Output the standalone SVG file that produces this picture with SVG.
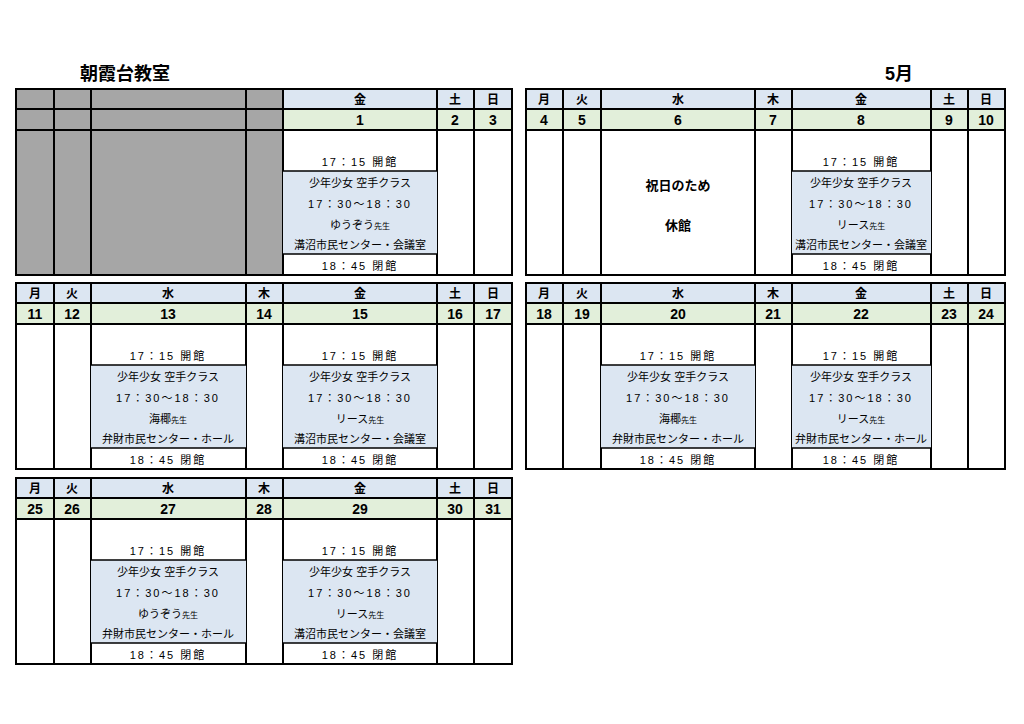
<svg xmlns="http://www.w3.org/2000/svg" width="1024" height="724" viewBox="0 0 1024 724">
<style>
text{font-family:"Liberation Sans","Noto Sans CJK JP",sans-serif;fill:#000;text-anchor:middle}
.t{font-size:18px;font-weight:bold;text-anchor:start}
.h{font-size:12px;font-weight:bold}
.d{font-size:14px;font-weight:bold}
.s{font-size:11px}
.tm{font-size:11px;letter-spacing:2px}
.hol{font-size:13px;font-weight:bold}
.hb{fill:#dce6f2}.db{fill:#e2efda}.gr{fill:#a6a6a6}.wb{fill:#fff}
.ln{stroke:#000;stroke-width:2;fill:none}
.il{stroke:#000;stroke-width:1.5;fill:none}
</style>
<rect width="1024" height="724" fill="#fff"/>
<text class="t" x="80" y="80">朝霞台教室</text>
<text class="t" x="885" y="80">5月</text>

<!-- generic block: header 0-20, date 20-41, body 41-186 -->
<g id="week1L" transform="translate(0,89)">
<rect x="16" y="0" width="496" height="20" class="hb"/><rect x="16" y="20" width="496" height="21" class="db"/>
<rect x="16" y="0" width="267" height="186" class="gr"/>
<path class="ln" d="M16 0H512V186H16Z M16 20H512 M16 41H512 M54 0V186 M91 0V186 M246 0V186 M283 0V186 M437 0V186 M474 0V186"/>
<text class="h" x="360" y="15">金</text><text class="h" x="455" y="15">土</text><text class="h" x="493" y="15">日</text>
<text class="d" x="360" y="36">1</text><text class="d" x="455" y="36">2</text><text class="d" x="493" y="36">3</text>
<g transform="translate(283,0)"><rect x="0" y="82" width="154" height="83" class="hb"/><path class="il" d="M0 82H154 M0 165H154"/>
<text class="tm" x="77" y="77">17：15 開館</text><text class="s" x="77" y="98">少年少女 空手クラス</text><text class="tm" x="77" y="119">17：30〜18：30</text><text class="s" x="77" y="140">ゆうぞう<tspan font-size="8">先生</tspan></text><text class="s" x="77" y="160">溝沼市民センター・会議室</text><text class="tm" x="77" y="181">18：45 閉館</text></g>
</g>

<g id="week1R" transform="translate(0,89)">
<rect x="526" y="0" width="479" height="20" class="hb"/><rect x="526" y="20" width="479" height="21" class="db"/>
<path class="ln" d="M526 0H1005V186H526Z M526 20H1005 M526 41H1005 M563 0V186 M601 0V186 M755 0V186 M792 0V186 M931 0V186 M968 0V186"/>
<text class="h" x="544" y="15">月</text><text class="h" x="582" y="15">火</text><text class="h" x="678" y="15">水</text><text class="h" x="773" y="15">木</text><text class="h" x="861" y="15">金</text><text class="h" x="949" y="15">土</text><text class="h" x="986" y="15">日</text>
<text class="d" x="544" y="36">4</text><text class="d" x="582" y="36">5</text><text class="d" x="678" y="36">6</text><text class="d" x="773" y="36">7</text><text class="d" x="861" y="36">8</text><text class="d" x="949" y="36">9</text><text class="d" x="986" y="36">10</text>
<text class="hol" x="678" y="101">祝日のため</text><text class="hol" x="678" y="141">休館</text>
<g transform="translate(792,0)"><rect x="0" y="82" width="139" height="83" class="hb"/><path class="il" d="M0 82H139 M0 165H139"/>
<text class="tm" x="69" y="77">17：15 開館</text><text class="s" x="69" y="98">少年少女 空手クラス</text><text class="tm" x="69" y="119">17：30〜18：30</text><text class="s" x="69" y="140">リース<tspan font-size="8">先生</tspan></text><text class="s" x="69" y="160">溝沼市民センター・会議室</text><text class="tm" x="69" y="181">18：45 閉館</text></g>
</g>

<g id="week2L" transform="translate(0,283)">
<rect x="16" y="0" width="496" height="20" class="hb"/><rect x="16" y="20" width="496" height="21" class="db"/>
<path class="ln" d="M16 0H512V186H16Z M16 20H512 M16 41H512 M54 0V186 M91 0V186 M246 0V186 M283 0V186 M437 0V186 M474 0V186"/>
<text class="h" x="35" y="15">月</text><text class="h" x="72" y="15">火</text><text class="h" x="168" y="15">水</text><text class="h" x="264" y="15">木</text><text class="h" x="360" y="15">金</text><text class="h" x="455" y="15">土</text><text class="h" x="493" y="15">日</text>
<text class="d" x="35" y="36">11</text><text class="d" x="72" y="36">12</text><text class="d" x="168" y="36">13</text><text class="d" x="264" y="36">14</text><text class="d" x="360" y="36">15</text><text class="d" x="455" y="36">16</text><text class="d" x="493" y="36">17</text>
<g transform="translate(91,0)"><rect x="0" y="82" width="155" height="83" class="hb"/><path class="il" d="M0 82H155 M0 165H155"/>
<text class="tm" x="77" y="77">17：15 開館</text><text class="s" x="77" y="98">少年少女 空手クラス</text><text class="tm" x="77" y="119">17：30〜18：30</text><text class="s" x="77" y="140">海椰<tspan font-size="8">先生</tspan></text><text class="s" x="77" y="160">弁財市民センター・ホール</text><text class="tm" x="77" y="181">18：45 閉館</text></g>
<g transform="translate(283,0)"><rect x="0" y="82" width="154" height="83" class="hb"/><path class="il" d="M0 82H154 M0 165H154"/>
<text class="tm" x="77" y="77">17：15 開館</text><text class="s" x="77" y="98">少年少女 空手クラス</text><text class="tm" x="77" y="119">17：30〜18：30</text><text class="s" x="77" y="140">リース<tspan font-size="8">先生</tspan></text><text class="s" x="77" y="160">溝沼市民センター・会議室</text><text class="tm" x="77" y="181">18：45 閉館</text></g>
</g>

<g id="week2R" transform="translate(0,283)">
<rect x="526" y="0" width="479" height="20" class="hb"/><rect x="526" y="20" width="479" height="21" class="db"/>
<path class="ln" d="M526 0H1005V186H526Z M526 20H1005 M526 41H1005 M563 0V186 M601 0V186 M755 0V186 M792 0V186 M931 0V186 M968 0V186"/>
<text class="h" x="544" y="15">月</text><text class="h" x="582" y="15">火</text><text class="h" x="678" y="15">水</text><text class="h" x="773" y="15">木</text><text class="h" x="861" y="15">金</text><text class="h" x="949" y="15">土</text><text class="h" x="986" y="15">日</text>
<text class="d" x="544" y="36">18</text><text class="d" x="582" y="36">19</text><text class="d" x="678" y="36">20</text><text class="d" x="773" y="36">21</text><text class="d" x="861" y="36">22</text><text class="d" x="949" y="36">23</text><text class="d" x="986" y="36">24</text>
<g transform="translate(601,0)"><rect x="0" y="82" width="154" height="83" class="hb"/><path class="il" d="M0 82H154 M0 165H154"/>
<text class="tm" x="77" y="77">17：15 開館</text><text class="s" x="77" y="98">少年少女 空手クラス</text><text class="tm" x="77" y="119">17：30〜18：30</text><text class="s" x="77" y="140">海椰<tspan font-size="8">先生</tspan></text><text class="s" x="77" y="160">弁財市民センター・ホール</text><text class="tm" x="77" y="181">18：45 閉館</text></g>
<g transform="translate(792,0)"><rect x="0" y="82" width="139" height="83" class="hb"/><path class="il" d="M0 82H139 M0 165H139"/>
<text class="tm" x="69" y="77">17：15 開館</text><text class="s" x="69" y="98">少年少女 空手クラス</text><text class="tm" x="69" y="119">17：30〜18：30</text><text class="s" x="69" y="140">リース<tspan font-size="8">先生</tspan></text><text class="s" x="69" y="160">弁財市民センター・ホール</text><text class="tm" x="69" y="181">18：45 閉館</text></g>
</g>

<g id="week3L" transform="translate(0,478)">
<rect x="16" y="0" width="496" height="20" class="hb"/><rect x="16" y="20" width="496" height="21" class="db"/>
<path class="ln" d="M16 0H512V186H16Z M16 20H512 M16 41H512 M54 0V186 M91 0V186 M246 0V186 M283 0V186 M437 0V186 M474 0V186"/>
<text class="h" x="35" y="15">月</text><text class="h" x="72" y="15">火</text><text class="h" x="168" y="15">水</text><text class="h" x="264" y="15">木</text><text class="h" x="360" y="15">金</text><text class="h" x="455" y="15">土</text><text class="h" x="493" y="15">日</text>
<text class="d" x="35" y="36">25</text><text class="d" x="72" y="36">26</text><text class="d" x="168" y="36">27</text><text class="d" x="264" y="36">28</text><text class="d" x="360" y="36">29</text><text class="d" x="455" y="36">30</text><text class="d" x="493" y="36">31</text>
<g transform="translate(91,0)"><rect x="0" y="82" width="155" height="83" class="hb"/><path class="il" d="M0 82H155 M0 165H155"/>
<text class="tm" x="77" y="77">17：15 開館</text><text class="s" x="77" y="98">少年少女 空手クラス</text><text class="tm" x="77" y="119">17：30〜18：30</text><text class="s" x="77" y="140">ゆうぞう<tspan font-size="8">先生</tspan></text><text class="s" x="77" y="160">弁財市民センター・ホール</text><text class="tm" x="77" y="181">18：45 閉館</text></g>
<g transform="translate(283,0)"><rect x="0" y="82" width="154" height="83" class="hb"/><path class="il" d="M0 82H154 M0 165H154"/>
<text class="tm" x="77" y="77">17：15 開館</text><text class="s" x="77" y="98">少年少女 空手クラス</text><text class="tm" x="77" y="119">17：30〜18：30</text><text class="s" x="77" y="140">リース<tspan font-size="8">先生</tspan></text><text class="s" x="77" y="160">溝沼市民センター・会議室</text><text class="tm" x="77" y="181">18：45 閉館</text></g>
</g>
</svg>
